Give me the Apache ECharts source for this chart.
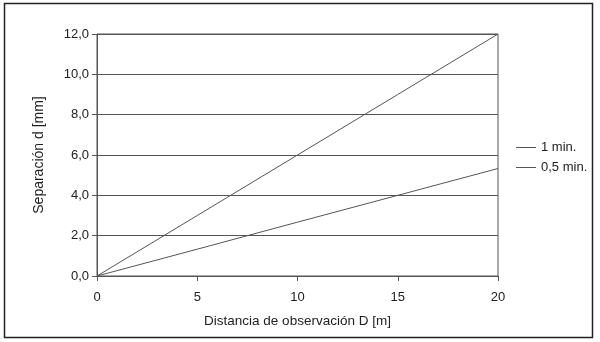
<!DOCTYPE html>
<html><head><meta charset="utf-8">
<script src="https://cdn.jsdelivr.net/npm/echarts@6/dist/echarts.min.js"></script>
<style>html,body{margin:0;padding:0;background:#fff}#c{width:600px;height:342px}</style>
</head><body><div id="c"></div>
<script>
const distances = [0, 5, 10, 15, 20];
const oneMin = [0, 3, 6, 9, 12];
const halfMin = [0, 1.33, 2.67, 4.0, 5.33];
const seriesNames = ['1 min.', '0,5 min.'];
const xTitle = 'Distancia de observación D [m]';
const yTitle = 'Separación d [mm]';

const chart = echarts.init(document.getElementById('c'));
const font = 'Liberation Sans, Arial, sans-serif';
const ink = '#555';
chart.setOption({
  animation: false,
  textStyle: {fontFamily: font},
  graphic: [{type: 'rect', shape: {x: 4.5, y: 3.5, width: 588, height: 334},
    style: {fill: 'none', stroke: '#222', lineWidth: 1.5}}],
  grid: {left: 97, right: 102, top: 34, bottom: 66, show: true, borderColor: ink, borderWidth: 1, backgroundColor: 'transparent'},
  legend: {orient: 'vertical', left: 511, top: 136, itemGap: 7, itemWidth: 20, itemHeight: 8,
    textStyle: {fontFamily: font, fontSize: 13, color: '#222'},
    data: seriesNames.map(n => ({name: n, icon: 'path://M0,5L20,5L20,6L0,6Z'}))},
  xAxis: {type: 'value', min: 0, max: 20, interval: 5,
    name: xTitle, nameLocation: 'middle', nameGap: 38,
    nameTextStyle: {fontFamily: font, fontSize: 13.5, color: '#222'},
    axisLine: {show: true, lineStyle: {color: ink}},
    axisTick: {show: true, length: 5, lineStyle: {color: ink}},
    axisLabel: {fontFamily: font, fontSize: 13, color: '#222', margin: 15},
    splitLine: {show: false}},
  yAxis: {type: 'value', min: 0, max: 12, interval: 2,
    name: yTitle, nameLocation: 'middle', nameGap: 51,
    nameTextStyle: {fontFamily: font, fontSize: 14, color: '#222'},
    axisLine: {show: true, lineStyle: {color: ink}},
    axisTick: {show: true, length: 5, lineStyle: {color: ink}},
    axisLabel: {fontFamily: font, fontSize: 13, color: '#222', margin: 8,
      formatter: v => v.toFixed(1).replace('.', ',')},
    splitLine: {show: true, lineStyle: {color: ink, width: 1}}},
  series: [
    {name: seriesNames[0], type: 'line', symbol: 'none', data: distances.map((d, i) => [d, oneMin[i]]),
      lineStyle: {color: ink, width: 1}, itemStyle: {color: ink}},
    {name: seriesNames[1], type: 'line', symbol: 'none', data: distances.map((d, i) => [d, halfMin[i]]),
      lineStyle: {color: ink, width: 1}, itemStyle: {color: ink}}
  ]
});
</script></body></html>
